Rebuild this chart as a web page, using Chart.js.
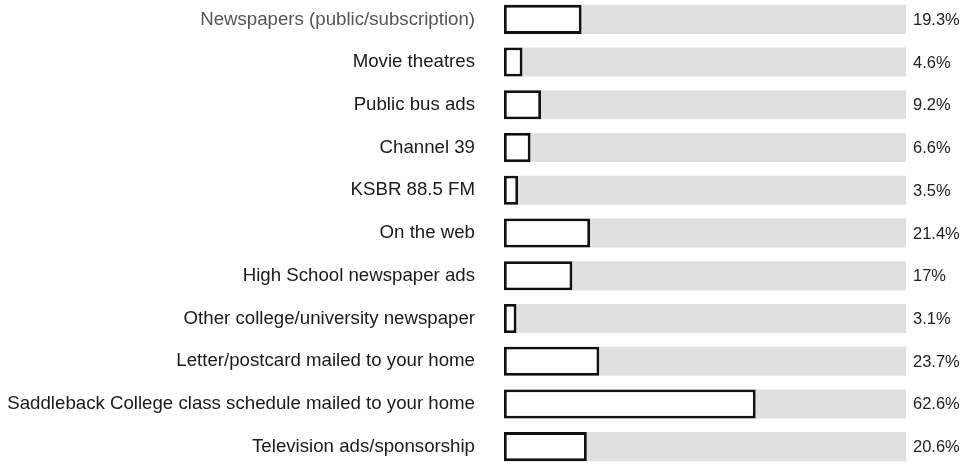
<!DOCTYPE html>
<html lang="en">
<head>
    <meta charset="UTF-8">
    <title>Survey sources</title>
    <script src="https://cdn.jsdelivr.net/npm/chart.js"></script>
    <style>
        html, body { margin: 0; padding: 0; background: #fff; overflow: hidden; }
        #grafico { position: absolute; left: 0; top: -2px; }
    </style>
</head>
<body>
    <canvas id="grafico" width="972" height="470"></canvas>

    <script>
        // Dados
        const categorias = [
            'Newspapers (public/subscription)',
            'Movie theatres',
            'Public bus ads',
            'Channel 39',
            'KSBR 88.5 FM',
            'On the web',
            'High School newspaper ads',
            'Other college/university newspaper',
            'Letter/postcard mailed to your home',
            'Saddleback College class schedule mailed to your home',
            'Television ads/sponsorship'
        ];
        const valores = [19.3, 4.6, 9.2, 6.6, 3.5, 21.4, 17, 3.1, 23.7, 62.6, 20.6];
        const rotulos = ['19.3%', '4.6%', '9.2%', '6.6%', '3.5%', '21.4%', '17%', '3.1%', '23.7%', '62.6%', '20.6%'];
        const fundo = categorias.map(() => 100);

        const fonte = 'Liberation Sans, Arial, sans-serif';

        // Rótulos de porcentagem à direita
        const rotuloPlugin = {
            id: 'rotulos',
            afterDatasetsDraw(chart) {
                const ctx = chart.ctx;
                const meta = chart.getDatasetMeta(0);
                ctx.save();
                ctx.font = '16.5px ' + fonte;
                ctx.fillStyle = '#222';
                ctx.textAlign = 'left';
                ctx.textBaseline = 'middle';
                meta.data.forEach((bar, i) => {
                    ctx.fillText(rotulos[i], chart.chartArea.right + 7, bar.y + 1);
                });
                ctx.restore();
            }
        };

        new Chart(document.getElementById('grafico'), {
            type: 'bar',
            data: {
                labels: categorias,
                datasets: [{
                    data: valores,
                    backgroundColor: '#ffffff',
                    borderColor: '#111111',
                    borderWidth: 2.8,
                    borderSkipped: false,
                    grouped: false,
                    categoryPercentage: 1,
                    barPercentage: 0.68
                }, {
                    data: fundo,
                    backgroundColor: '#e0e0e0',
                    borderWidth: 0,
                    grouped: false,
                    categoryPercentage: 1,
                    barPercentage: 0.68
                }]
            },
            options: {
                indexAxis: 'y',
                responsive: false,
                animation: false,
                layout: { padding: { left: 0, right: 66, top: 0, bottom: 0 }, autoPadding: false },
                plugins: {
                    legend: { display: false },
                    tooltip: { enabled: false }
                },
                scales: {
                    x: { display: false, min: 0, max: 100, afterFit(scale) { scale.height = 0; } },
                    y: {
                        grid: { display: false, drawTicks: false },
                        border: { display: false },
                        afterFit(scale) {
                            // largura fixa, sem folga vertical extra
                            scale.width = 504;
                            scale.paddingTop = 0;
                            scale.paddingBottom = 0;
                        },
                        ticks: {
                            padding: 29,
                            autoSkip: false,
                            color: (c) => c.index === 0 ? '#555' : '#1a1a1a',
                            font: { family: fonte, size: 18.67 }
                        }
                    }
                }
            },
            plugins: [rotuloPlugin]
        });
    </script>
</body>
</html>
